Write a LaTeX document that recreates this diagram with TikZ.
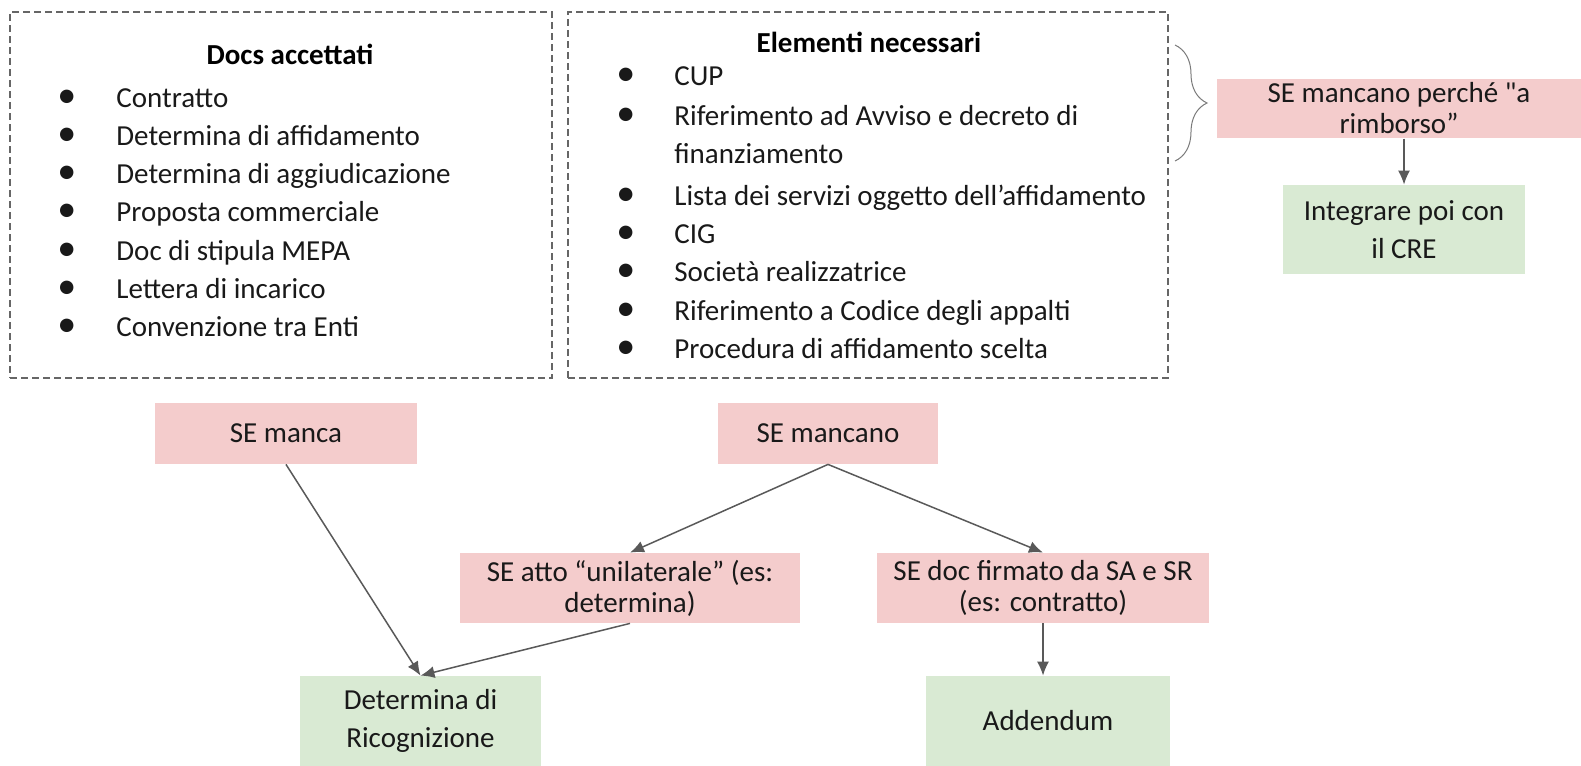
\documentclass[tikz,border=0pt]{standalone}
\usepackage{fontspec}
\setmainfont{Carlito}
\usepackage{tikz}
\usetikzlibrary{arrows.meta, positioning, decorations.pathreplacing}
\definecolor{sepink}{HTML}{F4CCCC}
\definecolor{okgreen}{HTML}{D9EAD3}
\definecolor{linegray}{HTML}{595959}
\tikzstyle{box} = [rectangle, inner sep=2pt, align=center, text=black!90, font=\fontsize{14.5}{15.5}\selectfont]

\begin{document}
\begin{tikzpicture}[x=0.5pt, y=-0.5pt]
    \tikzstyle{cond} = [box, fill=sepink]
    \tikzstyle{result} = [box, fill=okgreen, font=\fontsize{14.5}{19}\selectfont]
    \tikzstyle{dashbox} = [rectangle, draw=black!60, line width=0.6pt, dash pattern=on 3.5pt off 2pt]
    \tikzstyle{item} = [anchor=west, inner sep=0pt, text height=10pt, text depth=3pt, text=black!90, font=\fontsize{14.5}{19}\selectfont]
    \tikzstyle{dot} = [item, font=\fontsize{19}{19}\selectfont]
    \tikzstyle{heading} = [item, anchor=center, text=black, font=\fontsize{14.5}{19}\selectfont\bfseries]
    \tikzstyle{link} = [draw=linegray, line width=0.75pt, -{Latex[length=7pt, width=6pt]}]

    \useasboundingbox (0,0) rectangle (1581,766);

    % docs accettati
    \node[dashbox, minimum width=271pt, minimum height=183pt] (docs) at (281,195) {};
    \node[heading] (docsTitle) at (290,57) {Docs accettati};
    \foreach \txt [count=\i] in {Contratto, Determina di affidamento, Determina di aggiudicazione, Proposta commerciale, Doc di stipula MEPA, Lettera di incarico, Convenzione tra Enti} {
        \node[dot] (docDot\i) at (57, 62+38.2*\i) {•};
        \node[item] (doc\i) at (116, 62+38.2*\i) {\txt};
    }

    % elementi necessari
    \node[dashbox, minimum width=300pt, minimum height=183pt] (elems) at (868,195) {};
    \node[heading] (elemsTitle) at (869,45) {Elementi necessari};
    \foreach \y/\txt [count=\i] in {78/CUP, 118/Riferimento ad Avviso e decreto di, 198/Lista dei servizi oggetto dell’affidamento, 236/CIG, 274/Società realizzatrice, 313/Riferimento a Codice degli appalti, 351/Procedura di affidamento scelta} {
        \node[dot] (elemDot\i) at (616, \y) {•};
        \node[item] (elem\i) at (674, \y) {\txt};
    }
    \node[item] (elem2b) at (674,156) {finanziamento};

    \draw[linegray!80, line width=0.5pt, decorate, decoration={brace, amplitude=16pt}] (1175,45) -- (1175,161);

    % conditions
    \node[cond, minimum width=182pt, minimum height=29.5pt] (rimborso) at (1399,108.5) {SE mancano perché {\addfontfeatures{Ligatures=TeXOff}"}a\\rimborso”};
    \node[result, minimum width=121pt, minimum height=44.5pt] (cre) at (1404,229.5) {Integrare poi con\\il CRE};

    \node[cond, minimum width=131pt, minimum height=30.5pt] (manca) at (286,433.5) {SE manca};
    \node[cond, minimum width=110pt, minimum height=30.5pt] (mancano) at (828,433.5) {SE mancano};
    \node[cond, minimum width=170pt, minimum height=35pt] (atto) at (630,588) {SE atto “unilaterale” (es:\\determina)};
    \node[cond, minimum width=166pt, minimum height=35pt] (firmato) at (1043,588) {SE doc firmato da SA e SR\\(es: contratto)};

    \node[result, minimum width=120.5pt, minimum height=45pt] (ricognizione) at (420.5,721) {Determina di\\Ricognizione};
    \node[result, minimum width=122pt, minimum height=45pt] (addendum) at (1048,721) {Addendum};

    \draw[link] (rimborso.south -| cre.north) -- (cre.north);
    \draw[link] (manca.south) -- (ricognizione.north);
    \draw[link] (mancano.south) -- (atto.north);
    \draw[link] (mancano.south) -- (firmato.north);
    \draw[link] (atto.south) -- (ricognizione.north);
    \draw[link] (firmato.south) -- (firmato.south |- addendum.north);

\end{tikzpicture}
\end{document}
